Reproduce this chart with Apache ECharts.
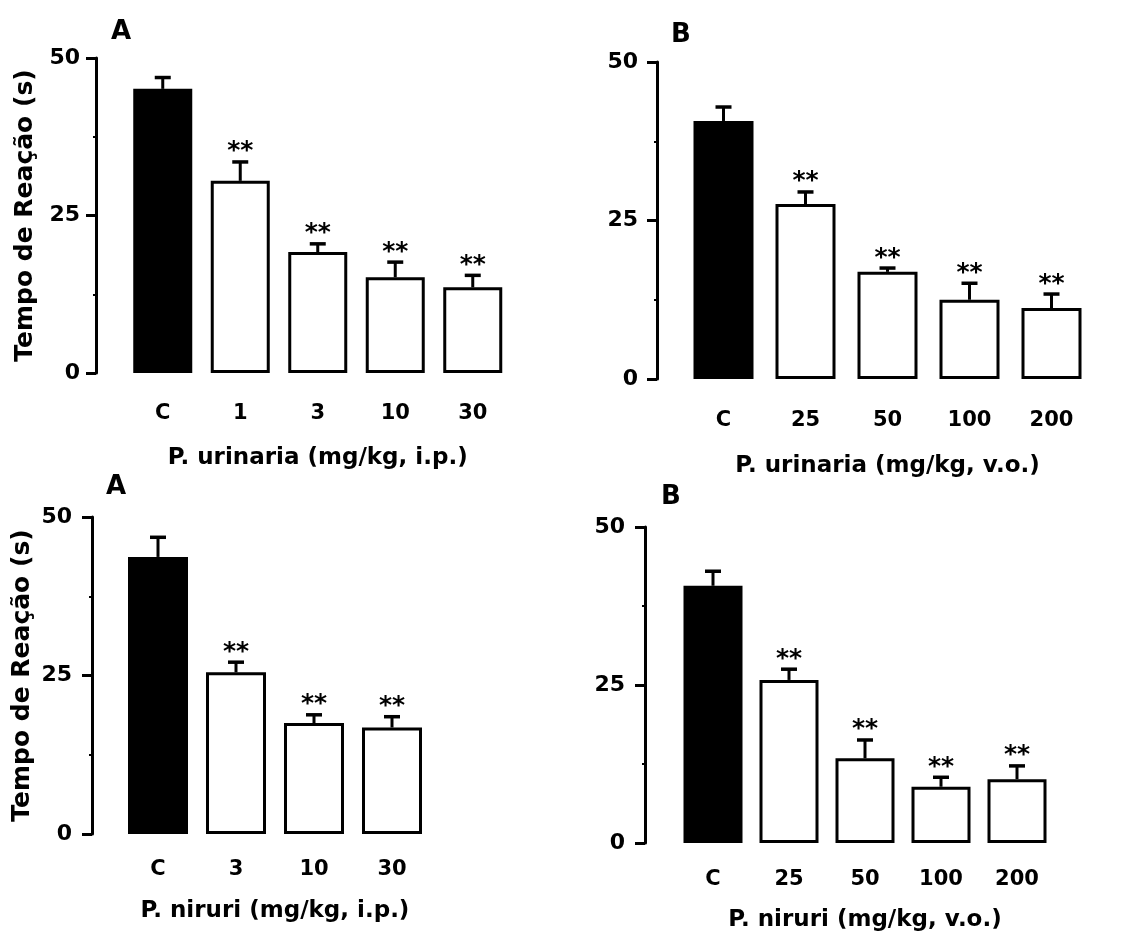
<!DOCTYPE html>
<html>
<head>
<meta charset="utf-8">
<script src="https://cdn.jsdelivr.net/npm/echarts@6/dist/echarts.min.js"></script>
<style>
html,body{margin:0;padding:0;background:#fff;}
#chart{width:1121px;height:937px;}
</style>
</head>
<body>
<div id="chart"></div>
<script>
// ---- data ----
const yTicks = [0, 25, 50];
const cats1 = ['C', '1', '3', '10', '30'];
const means1 = [45.1, 30.5, 19.2, 15.2, 13.6];
const sem1 = [1.8, 3.0, 1.3, 2.4, 1.9];
const sig1 = [false, true, true, true, true];

const cats2 = ['C', '25', '50', '100', '200'];
const means2 = [40.7, 27.6, 16.9, 12.5, 11.2];
const sem2 = [2.2, 1.9, 0.6, 2.6, 2.2];
const sig2 = [false, true, true, true, true];

const cats3 = ['C', '3', '10', '30'];
const means3 = [43.7, 25.5, 17.5, 16.8];
const sem3 = [3.1, 1.6, 1.3, 1.7];
const sig3 = [false, true, true, true];

const cats4 = ['C', '25', '50', '100', '200'];
const means4 = [40.7, 25.8, 13.4, 8.9, 10.1];
const sem4 = [2.3, 1.7, 2.9, 1.5, 2.1];
const sig4 = [false, true, true, true, true];

const xTitles = ['P. urinaria (mg/kg, i.p.)', 'P. urinaria (mg/kg, v.o.)', 'P. niruri (mg/kg, i.p.)', 'P. niruri (mg/kg, v.o.)'];
const yTitle = 'Tempo de Reação (s)';
const panelLetters = ['A', 'B', 'A', 'B'];

// ---- layout ----
const FONT = '"DejaVu Sans"';
const panels = [
  {cats: cats1, means: means1, sem: sem1, sig: sig1, left: 124, top: 58, width: 387.5, height: 315, offset: 28, barW: 59, xMargin: 30, nameGap: 74, yName: true, yGap: 58, yMargin: 16, letter: [111, 19]},
  {cats: cats2, means: means2, sem: sem2, sig: sig2, left: 682.5, top: 62, width: 410, height: 317, offset: 25.5, barW: 60, xMargin: 31, nameGap: 76, yName: false, yGap: 58, yMargin: 19, letter: [671, 22]},
  {cats: cats3, means: means3, sem: sem3, sig: sig3, left: 119, top: 517, width: 312, height: 317, offset: 27, barW: 60, xMargin: 25, nameGap: 66, yName: true, yGap: 57, yMargin: 20, letter: [106, 474]},
  {cats: cats4, means: means4, sem: sem4, sig: sig4, left: 675, top: 527, width: 380, height: 316, offset: 30, barW: 59, xMargin: 26, nameGap: 66, yName: false, yGap: 58, yMargin: 20, letter: [661, 484]}
];

const grid = [], xAxis = [], yAxis = [], series = [], graphic = [];
panels.forEach((p, i) => {
  grid.push({left: p.left, top: p.top, width: p.width, height: p.height, outerBoundsMode: 'none', containLabel: false});
  xAxis.push({
    type: 'category', gridIndex: i, data: p.cats,
    axisLine: {show: false}, axisTick: {show: false},
    axisLabel: {color: '#000', fontFamily: FONT, fontWeight: 'bold', fontSize: 21, margin: p.xMargin},
    name: xTitles[i], nameLocation: 'middle', nameGap: p.nameGap,
    nameTextStyle: {color: '#000', fontFamily: FONT, fontWeight: 'bold', fontSize: 23}
  });
  yAxis.push({
    type: 'value', gridIndex: i, min: 0, max: 50, interval: 25, offset: p.offset,
    axisLine: {show: true, lineStyle: {color: '#000', width: 3}},
    axisTick: {show: true, length: 10, lineStyle: {color: '#000', width: 3}},
    minorTick: {show: true, splitNumber: 2, length: 3, lineStyle: {color: '#000', width: 2}},
    splitLine: {show: false},
    axisLabel: {color: '#000', fontFamily: FONT, fontWeight: 'bold', fontSize: 22, margin: p.yMargin,
      formatter: v => yTicks.includes(v) ? String(v) : ''},
    name: p.yName ? yTitle : '', nameLocation: 'middle', nameRotate: 90, nameGap: p.yGap,
    nameTextStyle: {color: '#000', fontFamily: FONT, fontWeight: 'bold', fontSize: 25}
  });
  series.push({
    type: 'bar', xAxisIndex: i, yAxisIndex: i, barWidth: p.barW, animation: false,
    data: p.means.map((m, k) => ({
      value: m,
      itemStyle: k === 0 ? {color: '#000', borderColor: '#000', borderWidth: 2.5}
                         : {color: '#fff', borderColor: '#000', borderWidth: 3}
    }))
  });
  series.push({
    type: 'custom', xAxisIndex: i, yAxisIndex: i, animation: false, z: 5,
    data: p.means.map((m, k) => [k, m, m + p.sem[k], p.sig[k] ? 1 : 0]),
    renderItem: (params, api) => {
      const base = api.coord([api.value(0), api.value(1)]);
      const top = api.coord([api.value(0), api.value(2)]);
      const children = [
        {type: 'line', shape: {x1: base[0], y1: base[1], x2: top[0], y2: top[1]}, style: {stroke: '#000', lineWidth: 3}},
        {type: 'line', shape: {x1: top[0] - 8, y1: top[1], x2: top[0] + 8, y2: top[1]}, style: {stroke: '#000', lineWidth: 3.5}}
      ];
      if (api.value(3)) {
        children.push({type: 'text', x: top[0], y: top[1] - 10, style: {text: '**', fill: '#000', font: 'bold 25px ' + FONT, align: 'center', verticalAlign: 'middle'}});
      }
      return {type: 'group', children};
    }
  });
  graphic.push({type: 'text', left: p.letter[0], top: p.letter[1], style: {text: panelLetters[i], fill: '#000', font: 'bold 26px ' + FONT}});
});

const chart = echarts.init(document.getElementById('chart'), null, {renderer: 'canvas'});
chart.setOption({animation: false, backgroundColor: '#fff', grid, xAxis, yAxis, series, graphic});
</script>
</body>
</html>
